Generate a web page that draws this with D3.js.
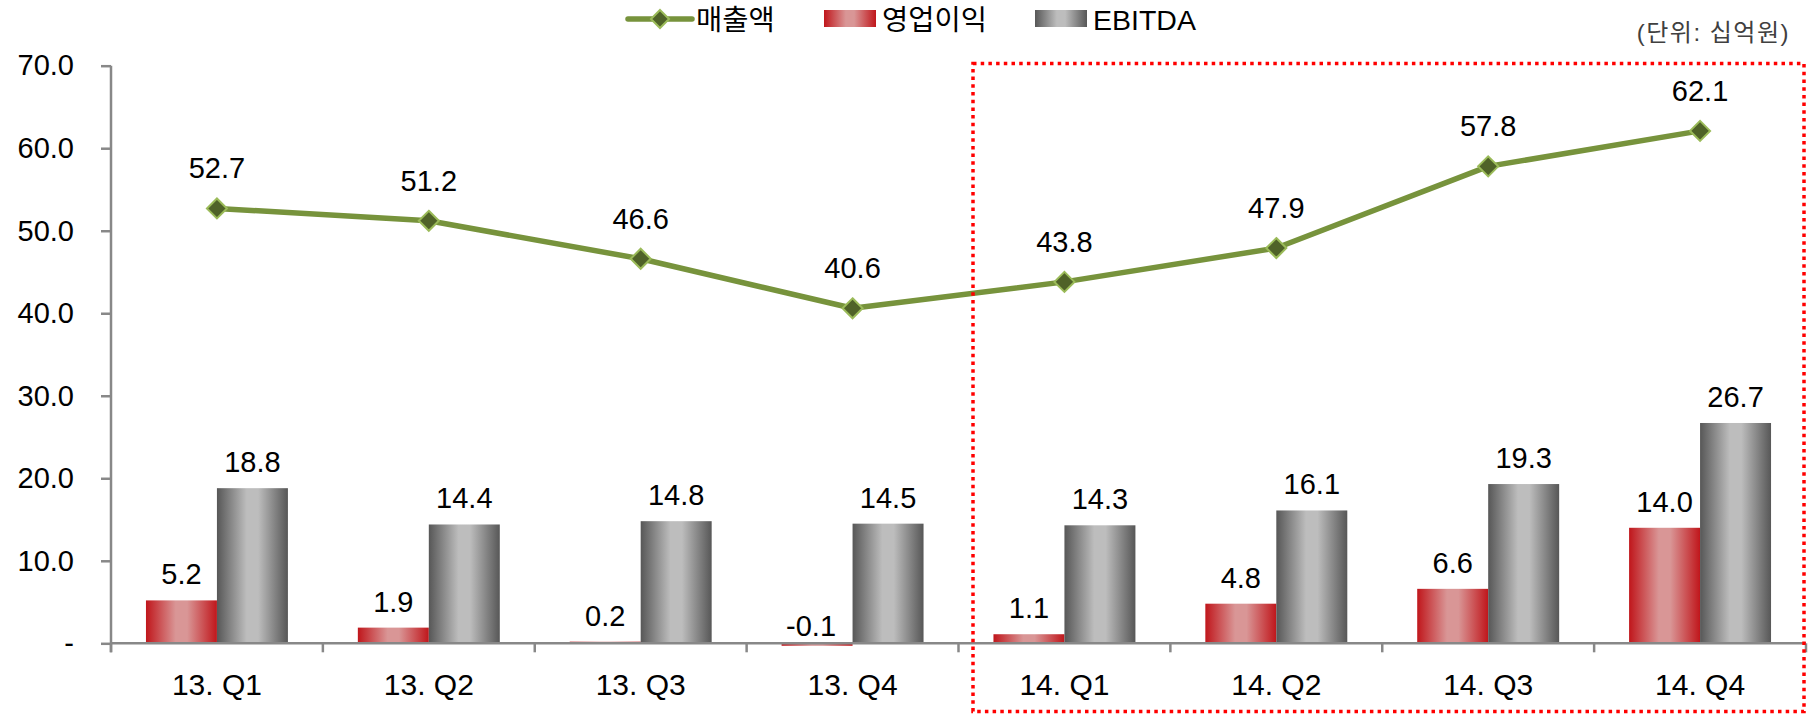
<!DOCTYPE html>
<html><head><meta charset="utf-8">
<script src="https://cdn.jsdelivr.net/npm/d3@7"></script>
<style>
html,body{margin:0;padding:0;background:#fff;}
svg{display:block;font-family:"Liberation Sans","Noto Sans CJK KR",Arial,sans-serif;}
</style></head><body>
<svg id="c" width="1808" height="714"></svg>
<script>
const categories = ["13. Q1","13. Q2","13. Q3","13. Q4","14. Q1","14. Q2","14. Q3","14. Q4"];
const sales = [52.7, 51.2, 46.6, 40.6, 43.8, 47.9, 57.8, 62.1];
const opProfit = [5.2, 1.9, 0.2, -0.1, 1.1, 4.8, 6.6, 14.0];
const ebitda = [18.8, 14.4, 14.8, 14.5, 14.3, 16.1, 19.3, 26.7];
const yTicks = [0, 10, 20, 30, 40, 50, 60, 70];
const seriesNames = ["매출액", "영업이익", "EBITDA"];
const unitText = "(단위: 십억원)";

const svg = d3.select("#c");
const L = 111, R = 1806, T = 65.7, B = 643.3;
const x = d3.scaleBand().domain(categories).range([L, R]).padding(0);
const y = d3.scaleLinear().domain([0, 70]).range([B, T]);
const bw = x.bandwidth();
const xs = d3.scaleBand().domain(["op","eb"]).range([bw*0.165, bw*0.835]).padding(0);

const defs = svg.append("defs");
function grad(id, edge, mid){
  const g = defs.append("linearGradient").attr("id", id).attr("x1","0").attr("x2","1").attr("y1","0").attr("y2","0");
  [[0,edge],[0.42,mid],[0.58,mid],[1,edge]].forEach(s=>g.append("stop").attr("offset",s[0]).attr("stop-color",s[1]));
}
grad("gRed", "#c0161b", "#d99696");
grad("gGray", "#575757", "#bdbdbd");

// Y axis
const yAxis = d3.axisLeft(y).tickValues(yTicks).tickSize(10).tickPadding(27)
  .tickFormat(d => d === 0 ? "-" : d.toFixed(1));
const ya = svg.append("g").attr("transform", `translate(${L},0)`).call(yAxis);
ya.select(".domain").attr("stroke", "#888").attr("stroke-width", 2.5).attr("d", `M0,${T}V${B+9}`);
ya.selectAll(".tick line").attr("stroke", "#888").attr("stroke-width", 2.5);
ya.selectAll(".tick text").attr("font-size", 29).attr("fill", "#000")
  .attr("font-family", '"Liberation Sans",Arial,sans-serif');

// Bars
const g = svg.append("g");
categories.forEach((c, i) => {
  const x0 = x(c);
  [["op", opProfit[i], "url(#gRed)"], ["eb", ebitda[i], "url(#gGray)"]].forEach(([k, v, f]) => {
    g.append("rect")
      .attr("x", x0 + xs(k)).attr("width", xs.bandwidth())
      .attr("y", Math.min(y(v), y(0))).attr("height", Math.max(Math.abs(y(v) - y(0)), v < 0 ? 2.5 : 0))
      .attr("fill", f);
  });
});

// X axis line and ticks
svg.append("line").attr("x1", L).attr("x2", R).attr("y1", B).attr("y2", B).attr("stroke", "#888").attr("stroke-width", 2.5);
const bounds = categories.map(c => x(c)).concat([R]);
svg.selectAll(".xt").data(bounds).enter().append("line")
  .attr("x1", d => d).attr("x2", d => d).attr("y1", B).attr("y2", B + 9)
  .attr("stroke", "#888").attr("stroke-width", 2.5);
svg.selectAll(".xl").data(categories).enter().append("text")
  .attr("x", d => x(d) + bw/2).attr("y", B + 52).attr("text-anchor", "middle")
  .attr("font-size", 30).attr("fill", "#000").text(d => d);

// Bar labels
categories.forEach((c, i) => {
  const x0 = x(c);
  const vo = opProfit[i];
  const cx = x0 + xs("op") + xs.bandwidth()/2;
  svg.append("text")
    .attr("x", vo < 0 ? cx - 6 : cx)
    .attr("y", vo < 0 ? y(0) - 7 : y(vo) - 16)
    .attr("text-anchor", "middle")
    .attr("font-size", 29).text(vo.toFixed(1));
  const ve = ebitda[i];
  svg.append("text")
    .attr("x", x0 + xs("eb") + xs.bandwidth()/2)
    .attr("y", y(ve) - 16)
    .attr("text-anchor", "middle")
    .attr("font-size", 29).text(ve.toFixed(1));
});

// Line
const line = d3.line().x((d, i) => x(categories[i]) + bw/2).y(d => y(d));
svg.append("path").datum(sales).attr("d", line).attr("fill", "none")
  .attr("stroke", "#77933c").attr("stroke-width", 5.5).attr("stroke-linejoin", "round");
function diamondPath(s){ return `M0,${-s}L${s},0L0,${s}L${-s},0Z`; }
svg.selectAll(".mk").data(sales).enter().append("path")
  .attr("d", diamondPath(10))
  .attr("transform", (d, i) => `translate(${x(categories[i]) + bw/2},${y(d)})`)
  .attr("fill", "#4f6228").attr("stroke", "#9bbb59").attr("stroke-width", 2);
svg.selectAll(".sl").data(sales).enter().append("text")
  .attr("x", (d, i) => x(categories[i]) + bw/2).attr("y", d => y(d) - 30)
  .attr("text-anchor", "middle").attr("font-size", 29).text(d => d.toFixed(1));

// Highlight dotted box
svg.append("rect").attr("x", 973).attr("y", 63.5).attr("width", 1804 - 973).attr("height", 711.5 - 63.5)
  .attr("fill", "none").attr("stroke", "#ff0000").attr("stroke-width", 3.5).attr("stroke-dasharray", "3.5 4.2");

// Legend
const lg = svg.append("g");
lg.append("line").attr("x1", 628).attr("x2", 692).attr("y1", 19).attr("y2", 19)
  .attr("stroke", "#77933c").attr("stroke-width", 5.5).attr("stroke-linecap", "round");
lg.append("path").attr("d", diamondPath(9)).attr("transform", "translate(660,19)")
  .attr("fill", "#4f6228").attr("stroke", "#9bbb59").attr("stroke-width", 2);
lg.append("text").attr("x", 696).attr("y", 30).attr("font-size", 28.5).text(seriesNames[0]);
lg.append("rect").attr("x", 824).attr("y", 10).attr("width", 52).attr("height", 17).attr("fill", "url(#gRed)");
lg.append("text").attr("x", 882).attr("y", 30).attr("font-size", 28.5).text(seriesNames[1]);
lg.append("rect").attr("x", 1035).attr("y", 10).attr("width", 52).attr("height", 17).attr("fill", "url(#gGray)");
lg.append("text").attr("x", 1093).attr("y", 30).attr("font-size", 28.5).text(seriesNames[2]);

svg.append("text").attr("x", 1790).attr("y", 41).attr("text-anchor", "end")
  .attr("font-size", 24).attr("letter-spacing", 1.5).attr("fill", "#404040").text(unitText);
</script>
</body></html>
